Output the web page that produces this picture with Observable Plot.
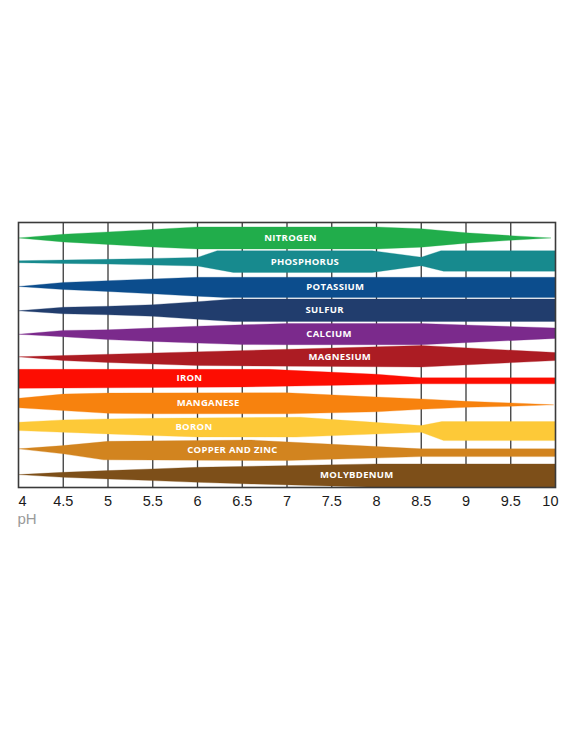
<!DOCTYPE html>
<html><head><meta charset="utf-8">
<script src="https://cdn.jsdelivr.net/npm/d3@7"></script>
<script src="https://cdn.jsdelivr.net/npm/@observablehq/plot@0.6"></script>
<style>
html,body{margin:0;padding:0;background:#fff;}
#chart svg{display:block;}
</style>
</head><body><div id="chart"></div>
<script>
// Nutrients, top to bottom
const nutrients = ["NITROGEN","PHOSPHORUS","POTASSIUM","SULFUR","CALCIUM","MAGNESIUM","IRON","MANGANESE","BORON","COPPER AND ZINC","MOLYBDENUM"];
const bandColors = ["#21ad4b","#178a8e","#0c4d8d","#213d6d","#7b2a8c","#ac1c23","#fd0d02","#f7820e","#fdc938","#d2841f","#7d4f19"];
const labelPH = [7.04, 7.2, 7.54, 7.42, 7.47, 7.59, 5.91, 6.12, 5.96, 6.39, 7.78];
const phTicks = [4,4.5,5,5.5,6,6.5,7,7.5,8,8.5,9,9.5,10];

// Availability: [pH, width above band axis], [pH, width below band axis] (same units, 23.75 = one row)
const nitrogenUpper = [[4,0],[4.5,3.7],[5,6],[5.5,8.5],[6,11],[8,11],[8.5,9.2],[9,5.2],[9.5,2.3],[9.95,0]];
const nitrogenLower = [[4,0],[4.5,4],[5,6.5],[5.5,9],[6,11],[8,11],[8.5,9.2],[9,5.2],[9.5,2.3],[9.95,0]];
const phosphorusUpper = [[4,1],[4.5,1.7],[5,2.4],[5.5,3.3],[6,4.3],[6.22,11],[7.95,11],[8.5,4.5],[8.72,11],[10,11]];
const phosphorusLower = [[4,1],[4.5,1.7],[5,2.4],[5.5,3.3],[6,4.3],[6.4,10.7],[7.95,10.7],[8.5,4],[8.75,9.5],[10,9.5]];
const potassiumUpper = [[4,-1],[4.5,3],[5,4.8],[5.5,6.5],[6,8.2],[10,8.2]];
const potassiumLower = [[4,1],[4.5,4],[5,6],[5.5,8.3],[6,10.7],[6.3,12],[10,12]];
const sulfurUpper = [[4,-1.5],[4.5,2],[5,3],[5.5,4.5],[6,7.5],[6.4,10.25],[10,10.25]];
const sulfurLower = [[4,1.5],[4.5,4.5],[5,5.5],[5.5,7],[6,10],[6.4,12.25],[10,12.25]];
const calciumUpper = [[4,-1.3],[4.5,2.6],[5,3.2],[5.5,5],[6,6.8],[6.5,8.2],[7,9.5],[8.5,9.5],[10,5]];
const calciumLower = [[4,1.3],[4.5,3.7],[5,6.6],[5.5,8.4],[6,10.1],[6.5,11.5],[7,11.7],[8.5,11.7],[10,5.4]];
const magnesiumUpper = [[4,0],[8.5,11.25],[10,4.25]];
const magnesiumLower = [[4,0],[4.5,3.75],[5,5.75],[5.5,7.25],[6,8.75],[8.5,10.25],[10,3.75]];
const ironUpper = [[4,11.2],[6.8,11.2],[8,6.3],[8.5,2.8],[10,2.8]];
const ironLower = [[4,7.8],[6.5,6.4],[8.5,3.3],[10,3.3]];
const manganeseUpper = [[4,6],[4.5,10.2],[5,11.2],[7,11.5],[8,7.3],[8.5,5.4],[9,3],[9.5,1.4],[9.98,-0.5]];
const manganeseLower = [[4,3.5],[4.5,6.25],[5,9],[5.5,9.5],[7,9.5],[8,7.5],[8.5,5],[9,3],[9.5,2],[9.98,0.5]];
const boronUpper = [[4,5.8],[4.5,8.2],[5,9.2],[5.5,9.8],[7.15,10.8],[8.5,2.5],[8.73,6.5],[10,6.5]];
const boronLower = [[4,2.5],[4.5,4.2],[5,5.8],[5.5,7.5],[6,8.8],[7.1,9],[8.5,4.2],[8.75,12.5],[10,12.5]];
const copperZincUpper = [[4,3],[4.5,6.25],[5,10.5],[6.6,11.75],[8.5,3],[10,3]];
const copperZincLower = [[4,-3],[4.5,2],[4.95,8],[7,8.75],[8.06,6],[8.5,4.75],[10,4.75]];
const molybdenumUpper = [[4,1],[4.5,3.3],[5,5],[5.5,6.7],[6,8.3],[8,11.7],[10,11.7]];
const molybdenumLower = [[4,-1],[4.5,1.7],[5,3.3],[5.5,5],[6,6.7],[6.6,8.3],[8,11.5],[10,11.5]];

const edges = [
  [nitrogenUpper, nitrogenLower], [phosphorusUpper, phosphorusLower], [potassiumUpper, potassiumLower],
  [sulfurUpper, sulfurLower], [calciumUpper, calciumLower], [magnesiumUpper, magnesiumLower],
  [ironUpper, ironLower], [manganeseUpper, manganeseLower], [boronUpper, boronLower],
  [copperZincUpper, copperZincLower], [molybdenumUpper, molybdenumLower]
];
const unit = 23.75;

function interp(pts, x) {
  for (let k = 1; k < pts.length; k++) {
    if (x <= pts[k][0]) {
      const [x0, y0] = pts[k-1], [x1, y1] = pts[k];
      return y0 + (y1 - y0) * (x - x0) / (x1 - x0);
    }
  }
  return pts[pts.length-1][1];
}

const bandMarks = edges.map(([up, lo], i) => {
  const outline = [
    ...up.map(([ph, w]) => ({x: ph, y: i - w / unit})),
    ...lo.slice().reverse().map(([ph, w]) => ({x: ph, y: i + w / unit}))
  ];
  return Plot.line(outline, {x: "x", y: "y", fill: bandColors[i], stroke: bandColors[i], strokeWidth: 0.3, curve: "linear"});
});

const labels = nutrients.map((name, i) => {
  const ph = labelPH[i];
  const [up, lo] = edges[i];
  return {name, x: ph, y: i + (interp(lo, ph) - interp(up, ph)) / 2 / unit};
});

const font = "'Liberation Sans', Arial, sans-serif";
const plot = Plot.plot({
  width: 570,
  height: 741,
  marginTop: 222,
  marginBottom: 254,
  marginLeft: 18,
  marginRight: 15,
  x: {domain: [4, 10], axis: null},
  y: {domain: [-0.65, 10.5], reverse: true, axis: null},
  marks: [
    Plot.ruleX(phTicks.slice(1, -1), {stroke: "#3a3a3a", strokeWidth: 1.3}),
    ...bandMarks,
    Plot.text(labels, {x: "x", y: "y", text: "name", fill: "white", fontWeight: "bold", fontSize: 9.5, fontFamily: "'Open Sans', sans-serif"}),
    Plot.frame({stroke: "#3a3a3a", strokeWidth: 1.6}),
    Plot.text(phTicks.slice(1, -1), {x: d => d, text: d => String(d), frameAnchor: "bottom", dy: 18, fontSize: 14.5, fontFamily: font, fill: "#1a1a1a"}),
    Plot.text(phTicks.slice(0, 1), {x: d => d, text: d => String(d), frameAnchor: "bottom", dy: 18, textAnchor: "start", fontSize: 14.5, fontFamily: font, fill: "#1a1a1a"}),
    Plot.text(phTicks.slice(-1), {x: d => d, text: d => String(d), frameAnchor: "bottom", dy: 18, textAnchor: "end", dx: 3, fontSize: 14.5, fontFamily: font, fill: "#1a1a1a"}),
    Plot.text(["pH"], {frameAnchor: "bottom-left", dy: 36, dx: -1, textAnchor: "start", fontSize: 15, fontFamily: font, fill: "#9a9a9a"})
  ]
});
document.getElementById("chart").appendChild(plot);
plot.querySelectorAll('g[aria-label="text"][fill="white"] text').forEach(t => t.style.letterSpacing = "0.3px");
</script>
</body></html>
